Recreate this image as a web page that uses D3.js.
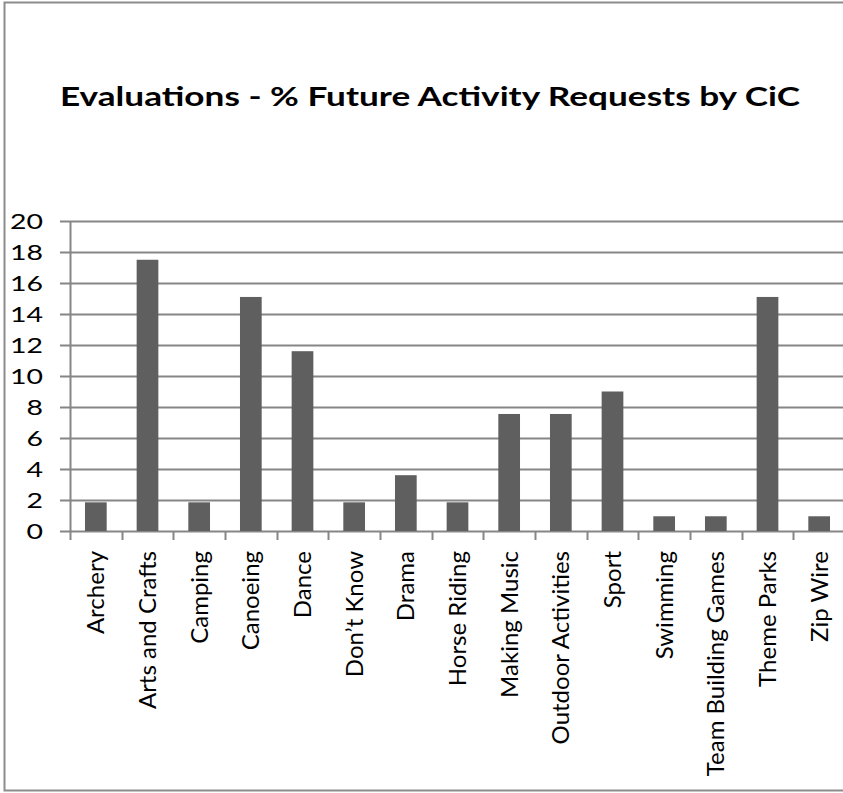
<!DOCTYPE html>
<html>
<head>
<meta charset="utf-8">
<script src="https://cdn.jsdelivr.net/npm/d3@7"></script>
<style>
  body { margin: 0; background: #fff; }
  text { font-family: Lato, "Open Sans", sans-serif; }
</style>
</head>
<body>
<div id="chart"></div>
<script>
// data
var categories = ["Archery", "Arts and Crafts", "Camping", "Canoeing", "Dance", "Don\u2019t Know",
  "Drama", "Horse Riding", "Making Music", "Outdoor Activities", "Sport", "Swimming",
  "Team Building Games", "Theme Parks", "Zip Wire"];
var values = [1.85, 17.5, 1.85, 15.1, 11.6, 1.85, 3.6, 1.85, 7.55, 7.55, 9.0, 0.95, 0.95, 15.1, 0.95];
var yTicks = [0, 2, 4, 6, 8, 10, 12, 14, 16, 18, 20];
var title = "Evaluations - % Future Activity Requests by CiC";

var W = 843, H = 793;
var margin = {top: 221, right: -2, bottom: 262, left: 70};

var svg = d3.select("#chart")
  .append("svg")
    .attr("width", W)
    .attr("height", H);

// chart border
svg.append("rect")
  .attr("x", 4.5).attr("y", 2.5)
  .attr("width", 850).attr("height", 788)
  .attr("fill", "none")
  .attr("stroke", "#8c8c8c")
  .attr("stroke-width", 2);

// title
svg.append("text")
  .attr("x", 430).attr("y", 106)
  .attr("text-anchor", "middle")
  .attr("font-size", 27)
  .attr("font-weight", "bold")
  .attr("textLength", 740)
  .attr("lengthAdjust", "spacingAndGlyphs")
  .attr("fill", "#000")
  .text(title);

var x = d3.scaleBand()
  .domain(categories)
  .range([margin.left, W - margin.right])
  .paddingInner(0.58)
  .paddingOuter(0.29);

var xAxisScale = d3.scaleBand()
  .domain(categories)
  .range([margin.left, W - margin.right]);

var y = d3.scaleLinear()
  .domain([0, 20])
  .range([H - margin.bottom, margin.top]);

// gridlines
svg.append("g")
  .selectAll("line")
  .data(yTicks)
  .enter().append("line")
    .attr("x1", margin.left - 10)
    .attr("x2", W)
    .attr("y1", function(d) { return Math.round(y(d)) + 0.5; })
    .attr("y2", function(d) { return Math.round(y(d)) + 0.5; })
    .attr("stroke", "#868686")
    .attr("stroke-width", 2);

// y axis line and labels
svg.append("line")
  .attr("x1", margin.left + 0.5).attr("x2", margin.left + 0.5)
  .attr("y1", y(20)).attr("y2", y(0))
  .attr("stroke", "#868686")
  .attr("stroke-width", 2);

svg.append("g")
  .selectAll("text")
  .data(yTicks)
  .enter().append("text")
    .attr("x", 43)
    .attr("y", function(d) { return y(d); })
    .attr("dy", "0.36em")
    .attr("text-anchor", "end")
    .attr("font-size", 22)
    .attr("textLength", function(d) { return String(d).length * 16.5; })
    .attr("lengthAdjust", "spacingAndGlyphs")
    .attr("fill", "#000")
    .text(function(d) { return d; });

// bars
svg.append("g")
  .selectAll("rect")
  .data(values)
  .enter().append("rect")
    .attr("x", function(d, i) { return x(categories[i]); })
    .attr("y", function(d) { return y(d); })
    .attr("width", x.bandwidth())
    .attr("height", function(d) { return y(0) - y(d); })
    .attr("fill", "#5f5f5f");

// x axis ticks
var tickPos = categories.map(function(c) { return xAxisScale(c); });
tickPos.push(W - margin.right);
svg.append("g")
  .selectAll("line")
  .data(tickPos)
  .enter().append("line")
    .attr("x1", function(d) { return Math.round(d) + 0.5; })
    .attr("x2", function(d) { return Math.round(d) + 0.5; })
    .attr("y1", y(0))
    .attr("y2", y(0) + 9)
    .attr("stroke", "#868686")
    .attr("stroke-width", 2);

// x labels, rotated
svg.append("g")
  .selectAll("text")
  .data(categories)
  .enter().append("text")
    .attr("transform", function(d) {
      return "translate(" + (xAxisScale(d) + xAxisScale.bandwidth() / 2) + "," + (y(0) + 20) + ") rotate(-90)";
    })
    .attr("dy", "0.36em")
    .attr("text-anchor", "end")
    .attr("font-size", 24)
    .attr("fill", "#000")
    .text(function(d) { return d; });
</script>
</body>
</html>
